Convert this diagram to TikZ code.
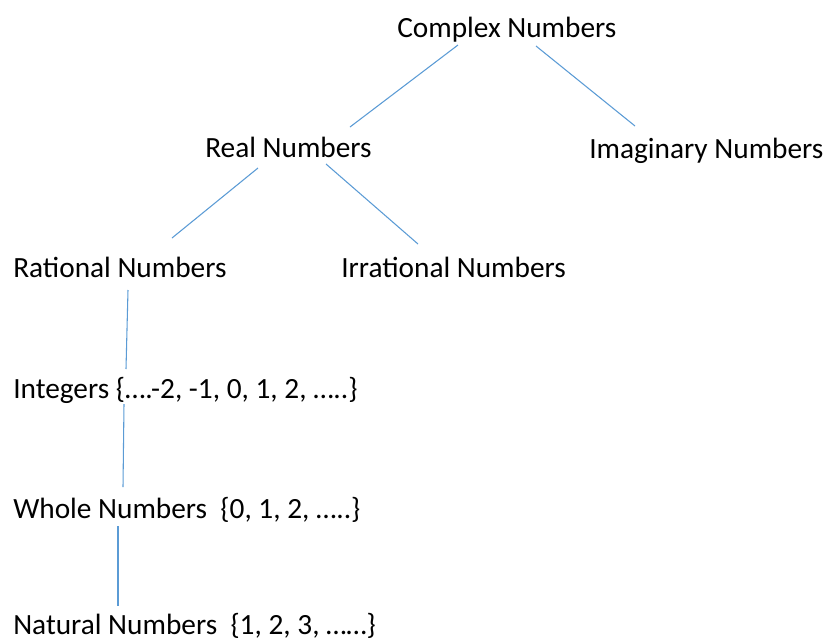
\documentclass[tikz,border=0pt]{standalone}
\usepackage{fontspec}
\setmainfont{Carlito}
\usetikzlibrary{positioning}
\definecolor{linkblue}{HTML}{5B9BD5}
\begin{document}
\begin{tikzpicture}[x=0.75pt,y=-0.75pt,
  lbl/.style={anchor=base west,inner sep=0pt,font=\fontsize{22}{26}\selectfont},
  link/.style={linkblue,line width=0.8pt}]
  \useasboundingbox (0,0) rectangle (826,640);
  \node[lbl] (cn) at (397,37) {Complex Numbers};
  \node[lbl] (rn) at (205,157) {Real Numbers};
  \node[lbl] (im) at (589,158) {Imaginary Numbers};
  \node[lbl] (ra) at (13,277) {Rational Numbers};
  \node[lbl] (ir) at (341,277) {Irrational Numbers};
  \node[lbl] (in) at (13,398) {Integers \{….-2, -1, 0, 1, 2, …..\}};
  \node[lbl] (wn) at (13,518) {Whole Numbers\ \ \{0, 1, 2, …..\}};
  \node[lbl] (nn) at (13,634) {Natural Numbers\ \ \{1, 2, 3, ……\}};
  \draw[link] ([shift={(61,8)}]cn.base west) -- ([shift={(145,-30)}]rn.base west);
  \draw[link] ([shift={(139,9)}]cn.base west) -- ([shift={(46,-32)}]im.base west);
  \draw[link] ([shift={(53,11)}]rn.base west) -- ([shift={(159,-39)}]ra.base west);
  \draw[link] ([shift={(121,7)}]rn.base west) -- ([shift={(77,-33)}]ir.base west);
  \draw[link] ([shift={(115,13)}]ra.base west) -- ([shift={(113,-29)}]in.base west);
  \draw[link] ([shift={(111,6)}]in.base west) -- ([shift={(110,-31)}]wn.base west);
  \draw[link] ([shift={(105,8)}]wn.base west) -- ([shift={(105,-28)}]nn.base west);
\end{tikzpicture}
\end{document}
